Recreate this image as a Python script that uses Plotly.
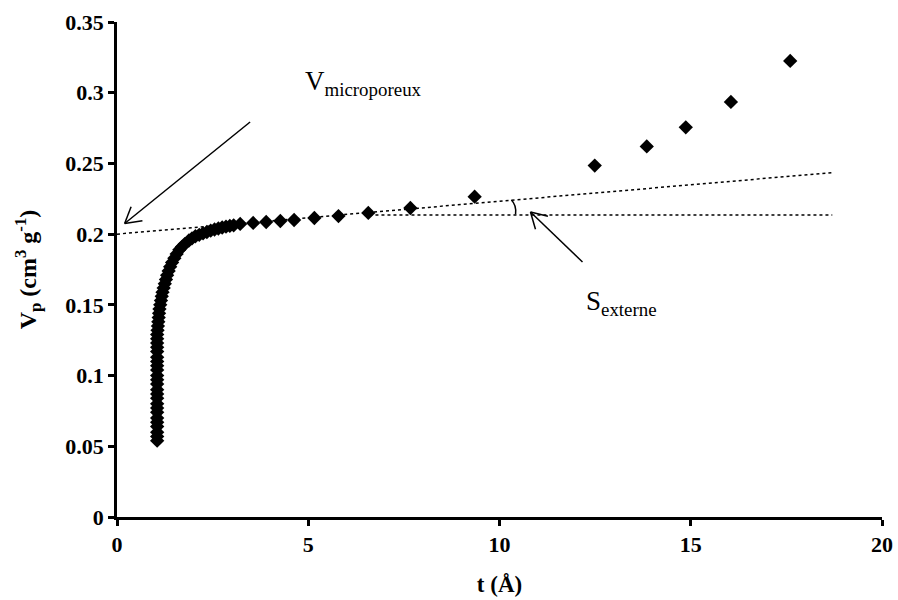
import math
import plotly.graph_objects as go

# t (Å) and pore volume Vp (cm3/g)
t_vals = [1.05] * 24 + [
    1.06, 1.07, 1.08, 1.09, 1.10, 1.11, 1.13, 1.15, 1.17, 1.19, 1.22, 1.25,
    1.28, 1.31, 1.35, 1.39, 1.44, 1.50, 1.56, 1.63, 1.70, 1.77, 1.88, 1.96,
    2.05, 2.15, 2.25, 2.35, 2.45, 2.55, 2.65, 2.75, 2.85, 2.95, 3.05,
    3.22, 3.56, 3.90, 4.27, 4.63, 5.16, 5.79, 6.57, 7.67, 9.35,
    12.49, 13.85, 14.87, 16.05, 17.60,
]
v_vals = [
    0.054, 0.057, 0.060, 0.064, 0.067, 0.070, 0.074, 0.077, 0.080, 0.084,
    0.087, 0.090, 0.094, 0.097, 0.100, 0.104, 0.107, 0.110, 0.113, 0.117,
    0.120, 0.123, 0.126, 0.129,
    0.132, 0.135, 0.138, 0.141, 0.144, 0.147, 0.150, 0.153, 0.156, 0.159,
    0.162, 0.165, 0.168, 0.171, 0.174, 0.177, 0.180, 0.183, 0.186, 0.189,
    0.191, 0.193, 0.1955, 0.197, 0.1985, 0.1995, 0.2005, 0.2015, 0.2025,
    0.2033, 0.204, 0.2047, 0.2053, 0.2058, 0.2062,
    0.2072, 0.2079, 0.2086, 0.2093, 0.2100, 0.2114, 0.2128, 0.2150, 0.2185,
    0.2265, 0.2485, 0.2620, 0.2755, 0.2935, 0.3225,
]

# tangent lines
slope_t = [0.0, 18.7]
slope_v = [0.2000, 0.2435]
flat_t = [6.6, 18.7]
flat_v = [0.2135, 0.2135]

x_ticks = [0, 5, 10, 15, 20]
y_ticks = [0, 0.05, 0.1, 0.15, 0.2, 0.25, 0.3, 0.35]
y_tick_text = ["0", "0.05", "0.1", "0.15", "0.2", "0.25", "0.3", "0.35"]

X_RANGE = [0, 20]
Y_RANGE = [0, 0.35]
W, H = 898, 600
ML, MR, MT, MB = 117, 16, 22, 83

FONT = "Liberation Serif"

fig = go.Figure()
fig.add_trace(go.Scatter(x=slope_t, y=slope_v, mode="lines",
                         line=dict(color="black", width=1.5, dash="dot"),
                         showlegend=False, hoverinfo="skip"))
fig.add_trace(go.Scatter(x=flat_t, y=flat_v, mode="lines",
                         line=dict(color="black", width=1.5, dash="dot"),
                         showlegend=False, hoverinfo="skip"))
fig.add_trace(go.Scatter(x=t_vals, y=v_vals, mode="markers",
                         marker=dict(symbol="diamond", size=11, color="black"),
                         showlegend=False))

# small angle arc between the two lines
fig.add_shape(type="path",
              path="M 10.31,0.2242 Q 10.45,0.2205 10.42,0.2140",
              line=dict(color="black", width=1.5), xref="x", yref="y")

# pixel scale for drawing open arrowheads of constant pixel size
px_x = (W - ML - MR) / (X_RANGE[1] - X_RANGE[0])
px_y = (H - MT - MB) / (Y_RANGE[1] - Y_RANGE[0])


def add_arrow(x0, y0, x1, y1, head=18, spread=math.radians(30)):
    fig.add_shape(type="line", x0=x0, y0=y0, x1=x1, y1=y1,
                  line=dict(color="black", width=1.5), xref="x", yref="y")
    dx = (x0 - x1) * px_x
    dy = (y0 - y1) * px_y
    ang = math.atan2(dy, dx)
    for s in (-spread, spread):
        hx = x1 + head * math.cos(ang + s) / px_x
        hy = y1 + head * math.sin(ang + s) / px_y
        fig.add_shape(type="line", x0=x1, y0=y1, x1=hx, y1=hy,
                      line=dict(color="black", width=1.5), xref="x", yref="y")


add_arrow(3.48, 0.2793, 0.20, 0.2075)
add_arrow(12.17, 0.1803, 10.81, 0.2157)

fig.add_annotation(x=4.85, y=0.307, xref="x", yref="y", xanchor="left",
                   text="V<sub>microporeux</sub>", showarrow=False,
                   font=dict(family=FONT, size=27, color="black"))
fig.add_annotation(x=12.2, y=0.151, xref="x", yref="y", xanchor="left",
                   text="S<sub>externe</sub>", showarrow=False,
                   font=dict(family=FONT, size=27, color="black"))

axis_common = dict(showline=True, linecolor="black", linewidth=2.5,
                   ticks="outside", ticklen=6, tickwidth=2.5, tickcolor="black",
                   showgrid=False, zeroline=False, automargin=False,
                   tickfont=dict(family=FONT, size=22, color="black", weight="bold"))

fig.update_xaxes(range=X_RANGE, tickvals=x_ticks,
                 title=dict(text="<b>t (Å)</b>", standoff=20,
                            font=dict(family=FONT, size=23, color="black")),
                 **axis_common)
fig.update_yaxes(range=Y_RANGE, tickvals=y_ticks, ticktext=y_tick_text,
                 title=dict(text="<b>V<sub>p</sub> (cm<sup>3</sup> g<sup>-1</sup>)</b>",
                            standoff=22,
                            font=dict(family=FONT, size=24, color="black")),
                 **axis_common)

fig.update_layout(width=W, height=H, plot_bgcolor="white",
                  paper_bgcolor="white",
                  font=dict(family=FONT, color="black"),
                  margin=dict(l=ML, r=MR, t=MT, b=MB, autoexpand=False))

fig.write_html("out.html")
